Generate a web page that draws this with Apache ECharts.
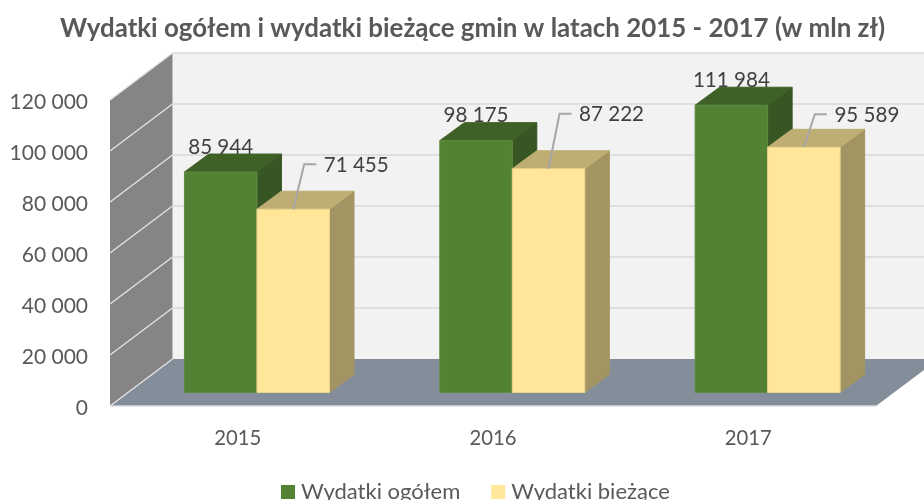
<!DOCTYPE html>
<html><head><meta charset="utf-8">
<style>html,body{margin:0;padding:0;background:#fff}#c{width:924px;height:500px}</style>
<script src="https://cdn.jsdelivr.net/npm/echarts@6/dist/echarts.min.js"></script>
</head><body><div id="c"></div>
<script>
const titleText = 'Wydatki ogółem i wydatki bieżące gmin w latach 2015 - 2017 (w mln zł)';
const categories = ['2015', '2016', '2017'];
const seriesNames = ['Wydatki ogółem', 'Wydatki bieżące'];
const wydatkiOgolem = [85944, 98175, 111984];
const wydatkiBiezace = [71455, 87222, 95589];
const yTicks = [0, 20000, 40000, 60000, 80000, 100000, 120000];

// 3D-look layout constants (pixels / ratios)
const FONT = 'Lato, "Open Sans", sans-serif';
const LABEL_SIZE = 20.6;
const WALL_DX = 62.5, WALL_DY = -47;
const BAR_SHIFT_X = 19.3, BAR_SHIFT_Y = -13.5, BAR_BAND = 0.284, BAR_SCALE = 1.006;
const BAR_DX = 24.5, BAR_DY = -18;
const LEADER_RISE = [45, 55, 33];
const GREEN = {front:'#548235', top:'#3f6026', side:'#375623', edge:'#5f8c42'};
const YELLOW = {front:'#ffe699', top:'#bfae74', side:'#a39563', edge:'#e9d48c'};

const fmt = v => String(v).replace(/\B(?=(\d{3})+(?!\d))/g, ' ');
const poly = (points, fill, stroke) => ({type:'polygon', shape:{points}, style:{fill, stroke: stroke || null, lineWidth: stroke ? 1 : 0}});
const line = (x1,y1,x2,y2,stroke,w) => ({type:'line', shape:{x1,y1,x2,y2}, style:{stroke, lineWidth:w, fill:null}});

function renderWalls(params, api) {
  const g = params.coordSys, L = g.x, R = g.x + g.width, B = api.coord([0,0])[1], T = api.coord([0,120000])[1];
  const bx = WALL_DX, by = WALL_DY, ch = [];
  ch.push(poly([[L+bx,T+by],[R+bx,T+by],[R+bx,B+by],[L+bx,B+by]], '#f2f2f2'));
  ch.push(poly([[L,T],[L+bx,T+by],[L+bx,B+by],[L,B]], '#868484'));
  ch.push(poly([[L,B],[R,B],[R+bx,B+by],[L+bx,B+by]], '#848e9b'));
  yTicks.forEach(v => {
    const y = api.coord([0,v])[1];
    if (v > 0) ch.push(line(L+bx, y+by, R+bx, y+by, '#d9d9d9', 1.6));
    ch.push(line(L, y, L+bx, y+by, '#e2e2e2', 1.4));
  });
  ch.push(line(L, B, R, B, '#d9dbe0', 1.4));
  return {type:'group', children:ch};
}

function makeBarRenderer(idx, pal) {
  return function (params, api) {
    const c = api.value(0), v = api.value(1);
    const p = api.coord([c, v]), p0 = api.coord([c, 0]);
    const w = api.size([1, 0])[0] * BAR_BAND;
    const x0 = p[0] + BAR_SHIFT_X - (idx === 0 ? w : 0), x1 = x0 + w;
    const yb = p0[1] + BAR_SHIFT_Y, yt = yb - (p0[1] - p[1]) * BAR_SCALE;
    const dx = BAR_DX, dy = BAR_DY, ch = [
      poly([[x1,yt],[x1+dx,yt+dy],[x1+dx,yb+dy],[x1,yb]], pal.side, pal.side),
      poly([[x0,yt],[x0+dx,yt+dy],[x1+dx,yt+dy],[x1,yt]], pal.top, pal.top),
      poly([[x0,yt],[x1,yt],[x1,yb],[x0,yb]], pal.front, pal.edge)
    ];
    return {type:'group', children:ch};
  };
}

function makeLabelRenderer(idx) {
  return function (params, api) {
    const c = api.value(0), v = api.value(1);
    const p = api.coord([c, v]), p0 = api.coord([c, 0]);
    const w = api.size([1, 0])[0] * BAR_BAND;
    const x0 = p[0] + BAR_SHIFT_X - (idx === 0 ? w : 0);
    const yt = p0[1] + BAR_SHIFT_Y - (p0[1] - p[1]) * BAR_SCALE;
    const mid = x0 + w / 2, ch = [];
    const textStyle = {fontFamily:FONT, fontSize:LABEL_SIZE, fill:'#404040', verticalAlign:'middle'};
    if (idx === 0) {
      ch.push({type:'text', style:Object.assign({text:fmt(v), x:mid, y:yt-25, textAlign:'center'}, textStyle)});
    } else {
      const ly = yt - LEADER_RISE[c];
      ch.push({type:'polyline', shape:{points:[[mid,yt],[mid+11,ly],[mid+23,ly]]}, style:{stroke:'#a6a6a6', lineWidth:2, fill:null}});
      ch.push({type:'text', style:Object.assign({text:fmt(v), x:mid+30.5, y:ly+1, textAlign:'left'}, textStyle)});
    }
    return {type:'group', children:ch};
  };
}

const chart = echarts.init(document.getElementById('c'), null, {renderer:'canvas'});
chart.setOption({
  animation:false,
  backgroundColor:'#ffffff',
  title:{text:titleText, left:55, top:11, textStyle:{fontFamily:FONT, fontSize:25.9, fontWeight:'bold', color:'#595959'}},
  legend:{data:seriesNames, left:276, top:476, icon:'rect', itemWidth:14, itemHeight:14, itemGap:31,
    textStyle:{fontFamily:FONT, fontSize:22, color:'#595959', padding:[0,0,0,1]}},
  grid:{left:110, top:100, width:766, height:306},
  xAxis:{type:'category', data:categories, axisLine:{show:false}, axisTick:{show:false}, splitLine:{show:false},
    axisLabel:{fontFamily:FONT, fontSize:20.3, color:'#595959', margin:22}},
  yAxis:{type:'value', min:0, max:120000, interval:20000, axisLine:{show:false}, axisTick:{show:false}, splitLine:{show:false},
    axisLabel:{color:'#595959', margin:22, formatter:v => '{t|' + fmt(v) + '}',
      rich:{t:{fontFamily:FONT, fontSize:21, color:'#595959', padding:[5,0,0,0]}}}},
  series:[
    {type:'custom', name:'walls', silent:true, z:1, renderItem:renderWalls, data:[[0,0]], encode:{x:0,y:1}},
    {type:'custom', name:seriesNames[0], z:2, itemStyle:{color:GREEN.front}, renderItem:makeBarRenderer(0,GREEN), data:wydatkiOgolem.map((v,i)=>[i,v]), encode:{x:0,y:1}},
    {type:'custom', name:seriesNames[1], z:3, itemStyle:{color:YELLOW.front}, renderItem:makeBarRenderer(1,YELLOW), data:wydatkiBiezace.map((v,i)=>[i,v]), encode:{x:0,y:1}},
    {type:'custom', name:'labels1', z:4, silent:true, renderItem:makeLabelRenderer(0), data:wydatkiOgolem.map((v,i)=>[i,v]), encode:{x:0,y:1}},
    {type:'custom', name:'labels2', z:4, silent:true, renderItem:makeLabelRenderer(1), data:wydatkiBiezace.map((v,i)=>[i,v]), encode:{x:0,y:1}}
  ]
});
</script></body></html>
